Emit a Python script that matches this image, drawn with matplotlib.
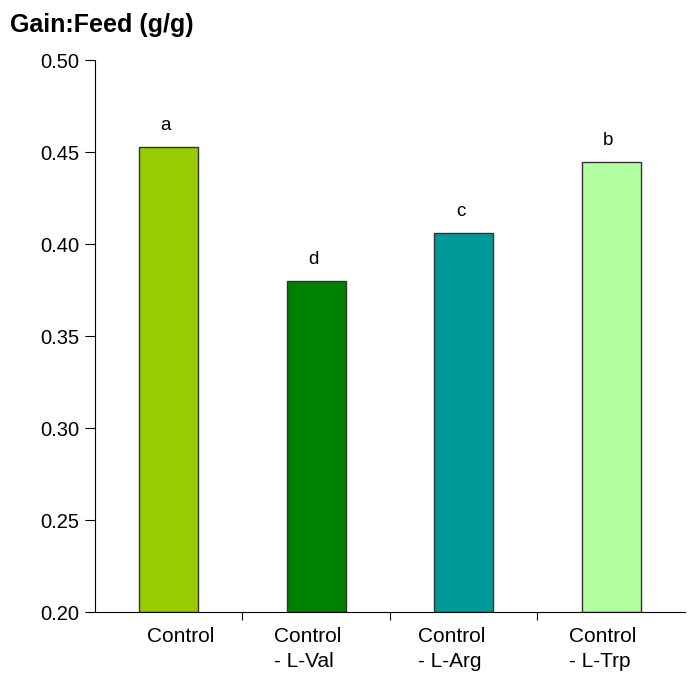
import numpy as np
import matplotlib.pyplot as plt

plt.rcParams['font.family'] = ['Liberation Sans', 'DejaVu Sans']

# data
categories = ['Control', 'Control\n- L-Val', 'Control\n- L-Arg', 'Control\n- L-Trp']
gain_feed = [0.453, 0.380, 0.406, 0.4445]
letters = ['a', 'd', 'c', 'b']
colors = ['#99CC00', '#008000', '#009999', '#B3FFA0']

fig = plt.figure(figsize=(6.88, 6.73), dpi=100)
ax = fig.add_axes([0.138, 0.0906, 0.8576, 0.8202])

x = np.arange(len(categories))
ax.bar(x, np.array(gain_feed) - 0.20, bottom=0.20, width=0.4,
       color=colors, edgecolor='#333333', linewidth=1)

for xi, v, l in zip(x, gain_feed, letters):
    ax.text(xi - 0.02, v + 0.007, l, ha='center', va='bottom', fontsize=13.5)

ax.set_xlim(-0.5, len(categories) - 0.5)
ax.set_ylim(0.20, 0.50)
ax.set_yticks(np.arange(0.20, 0.501, 0.05))
ax.set_yticklabels(['%.2f' % t for t in np.arange(0.20, 0.501, 0.05)])
ax.tick_params(axis='y', direction='out', length=7, labelsize=14.5, pad=4)

# tick marks between categories, labels placed by hand
ax.set_xticks(np.arange(0.5, len(categories) - 1, 1.0))
ax.set_xticklabels([])
ax.tick_params(axis='x', direction='out', length=6)
offsets = [0.08, -0.055, -0.08, -0.055]
for xi, lab, off in zip(x, categories, offsets):
    ax.text(xi + off, -0.028, lab, transform=ax.get_xaxis_transform(),
            ha='center', va='top', multialignment='left', fontsize=15,
            linespacing=1.35)

ax.spines['top'].set_visible(False)
ax.spines['right'].set_visible(False)

fig.text(0.014, 0.952, 'Gain:Feed (g/g)', fontsize=18, fontweight='bold',
         ha='left', va='baseline')

plt.savefig('out.png', dpi=100)
